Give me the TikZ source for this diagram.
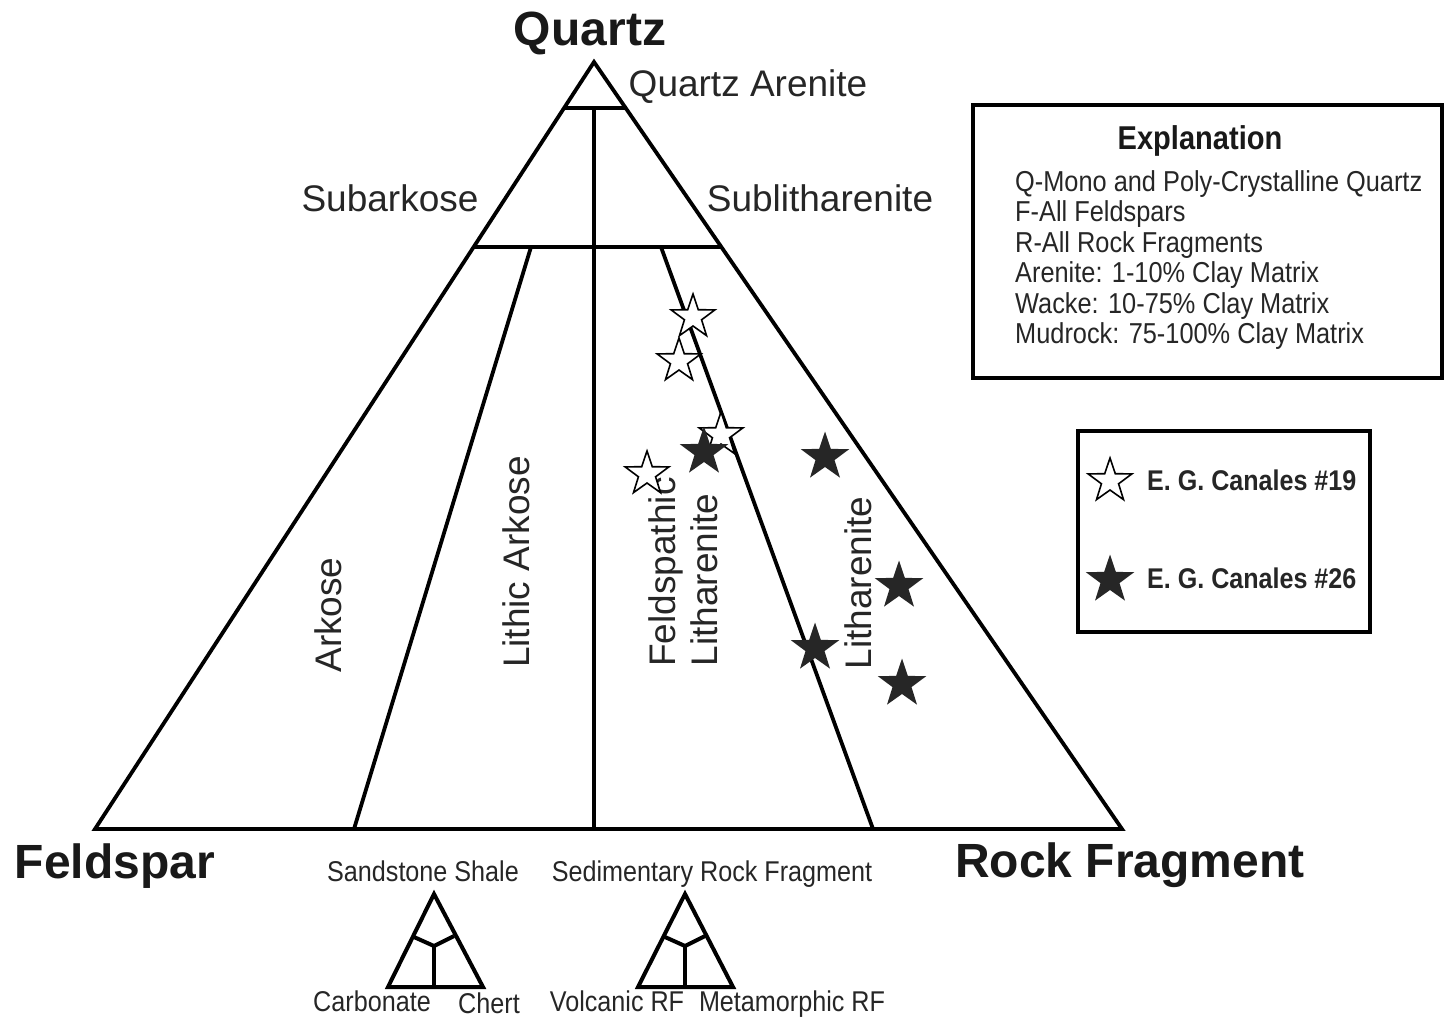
\documentclass[tikz,border=0pt]{standalone}
\usepackage{fontspec}
\setmainfont{Liberation Sans}
\newfontfamily\narrowfont[FakeStretch=0.88]{Liberation Sans}
\usetikzlibrary{shapes.geometric,calc}
\begin{document}
\begin{tikzpicture}[x=1pt,y=-1pt,
  edge/.style={line width=3.8pt, line join=miter},
  boxline/.style={line width=4.2pt},
  small/.style={line width=4pt, line join=miter},
  bigbold/.style={inner sep=0pt, anchor=base, font=\fontsize{48}{50}\selectfont\bfseries, text=black!90},
  field/.style={inner sep=0pt, anchor=base, font=\fontsize{37}{40}\selectfont, text=black!85},
  fieldrot/.style={inner sep=0pt, font=\fontsize{37}{40}\selectfont, text=black!85, rotate=90},
  expl/.style={inner sep=0pt, anchor=base west, font=\narrowfont\fontsize{28.8}{30}\selectfont, text=black!85},
  legtxt/.style={inner sep=0pt, anchor=base west, font=\narrowfont\fontsize{28.5}{30}\selectfont\bfseries, text=black!85},
  minilab/.style={inner sep=0pt, anchor=base, font=\narrowfont\fontsize{28.6}{30}\selectfont, text=black!85},
  openstar/.style={star, star points=5, star point ratio=2.55, minimum size=46pt, inner sep=0pt, draw=black, line width=1.6pt, fill=white},
  fullstar/.style={openstar, fill=black!85, draw=black!85}
]
\useasboundingbox (0,0) rectangle (1445,1017);
\fill[white] (0,0) rectangle (1445,1017);

% main triangle
\coordinate (Q) at (594,62);
\coordinate (F) at (95,829);
\coordinate (R) at (1122,829);
\coordinate (qaL) at ($(Q)!0.06!(F)$);
\coordinate (qaR) at ($(Q)!0.06!(R)$);
\coordinate (saL) at ($(Q)!0.241!(F)$);
\coordinate (saR) at ($(Q)!0.241!(R)$);
\coordinate (cTop) at (594,108);
\coordinate (cBot) at (594,829);
\coordinate (lT) at (531,247);
\coordinate (lB) at (354,829);
\coordinate (rT) at (661,247);
\coordinate (rB) at (873,829);

\draw[edge] (Q) -- (F) -- (R) -- cycle;
\draw[edge] (qaL) -- (qaR);
\draw[edge] (saL) -- (saR);
\draw[edge] (cTop) -- (cBot);
\draw[edge] (lT) -- (lB);
\draw[edge] (rT) -- (rB);

% vertex labels
\node[bigbold] (tq) at (590,45) {Quartz};
\node[bigbold] (tf) at (115,878) {Feldspar};
\node[bigbold] (tr) at (1130,877) {Rock Fragment};

% field labels
\node[field] (fqa) at (748,96) {Quartz Arenite};
\node[field] (fsa) at (390,211) {Subarkose};
\node[field] (fsl) at (820,211) {Sublitharenite};
\node[fieldrot] (fark) at (328,615) {Arkose};
\node[fieldrot] (flark) at (516,562) {Lithic Arkose};
\node[fieldrot] (ffel) at (666,572) {Feldspathic};
\node[fieldrot] (ffl) at (704,580) {Litharenite};
\node[fieldrot] (flit) at (858,583) {Litharenite};

% data points
\node[openstar] (o1) at (693,317) {};
\node[openstar] (o2) at (679,361) {};
\node[openstar] (o3) at (721,435) {};
\node[openstar] (o4) at (647,474) {};
\node[fullstar] (s1) at (704,452) {};
\node[fullstar] (s2) at (825,457) {};
\node[fullstar] (s3) at (899,586) {};
\node[fullstar] (s4) at (815,648) {};
\node[fullstar] (s5) at (902,684) {};

% explanation box
\draw[boxline] (973,105) rectangle (1442,378);
\node[inner sep=0pt, anchor=base, font=\narrowfont\fontsize{33}{34}\selectfont\bfseries, text=black!90] (ex) at (1200,149) {Explanation};
\node[expl] (e1) at (1015,191) {Q-Mono and Poly-Crystalline Quartz};
\node[expl] (e2) at (1015,221) {F-All Feldspars};
\node[expl] (e3) at (1015,252) {R-All Rock Fragments};
\node[expl] (e4) at (1015,282) {Arenite: 1-10\% Clay Matrix};
\node[expl] (e5) at (1015,313) {Wacke: 10-75\% Clay Matrix};
\node[expl] (e6) at (1015,343) {Mudrock: 75-100\% Clay Matrix};

% legend box
\draw[boxline] (1078,431) rectangle (1370,632);
\node[openstar] (lo) at (1110,481) {};
\node[fullstar] (lf) at (1110,580) {};
\node[legtxt] (l1) at (1147,490) {E. G. Canales \#19};
\node[legtxt] (l2) at (1147,588) {E. G. Canales \#26};

% mini triangle left
\coordinate (aA) at (434,894);
\coordinate (aL) at (388,987);
\coordinate (aR) at (483,987);
\coordinate (aJ) at (434,946);
\coordinate (aBL) at (414,937);
\coordinate (aBR) at (454,936);
\coordinate (aB) at (434,987);
\draw[small] (aA) -- (aL) -- (aR) -- cycle;
\draw[small] (aBL) -- (aJ) -- (aBR);
\draw[small] (aJ) -- (aB);

% mini triangle right
\coordinate (bA) at (685,894);
\coordinate (bL) at (638,987);
\coordinate (bR) at (733,987);
\coordinate (bJ) at (685,946);
\coordinate (bBL) at (665,937);
\coordinate (bBR) at (705,936);
\coordinate (bB) at (685,987);
\draw[small] (bA) -- (bL) -- (bR) -- cycle;
\draw[small] (bBL) -- (bJ) -- (bBR);
\draw[small] (bJ) -- (bB);

\node[minilab] (m1) at (423,881) {Sandstone Shale};
\node[minilab] (m2) at (712,881) {Sedimentary Rock Fragment};
\node[minilab] (m3) at (372,1011) {Carbonate};
\node[minilab] (m4) at (489,1013) {Chert};
\node[minilab] (m5) at (617,1011) {Volcanic RF};
\node[minilab] (m6) at (792,1011) {Metamorphic RF};
\end{tikzpicture}
\end{document}
